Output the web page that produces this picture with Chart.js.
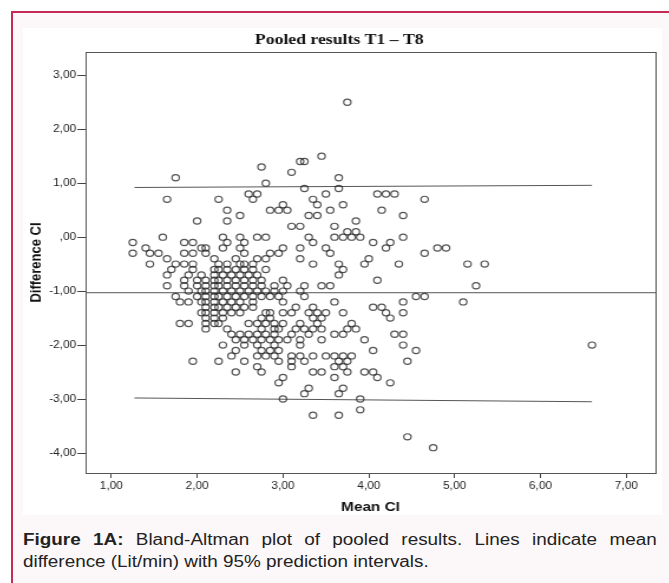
<!DOCTYPE html>
<html>
<head>
<meta charset="utf-8">
<script src="https://cdn.jsdelivr.net/npm/chart.js@4.4.0/dist/chart.umd.min.js"></script>
<style>
  body { margin: 0; background: #fff; width: 669px; height: 583px; overflow: hidden; position: relative;
         font-family: "Liberation Sans", Arial, sans-serif; }
  #frame { position: absolute; left: 11px; top: 11px; width: 700px; height: 600px;
           border-left: 2px solid #c72a55; border-top: 2px solid #c72a55; background: #fcf8fa; }
  #panel { position: absolute; left: 23px; top: 28px; width: 639px; height: 487px; background: #fff; }
  #plot { position: absolute; left: 23px; top: 28px; transform: scaleX(1.18); transform-origin: 0 0; }
  #caption { position: absolute; left: 23px; top: 529px; width: 537px; transform: scaleX(1.18); transform-origin: 0 0;
             font-size: 16px; line-height: 22px; color: #222; }
  #caption .l1 { text-align: justify; text-align-last: justify; white-space: nowrap; }
</style>
</head>
<body>
<div id="frame"></div>
<div id="panel"></div>
<div id="plot"><canvas id="chart" width="542" height="487"></canvas></div>
<div id="caption">
  <div class="l1"><b>Figure 1A:</b> Bland-Altman plot of pooled results. Lines indicate mean</div>
  <div>difference (Lit/min) with 95% prediction intervals.</div>
</div>
<script>
// mean of the two CI measurements (x) and their difference (y), one row of the plot per line
const meanCI = [
  3.75,
  3.45,
  3.2, 3.25,
  2.75,
  3.1,
  1.75, 3.65,
  2.8,
  3.25, 3.65,
  2.6, 2.7, 3.5, 4.1, 4.2, 4.3,
  1.65, 2.25, 2.65, 3.35, 4.65,
  3.0, 3.4, 3.7,
  2.35, 2.85, 2.95, 3.05, 3.55, 4.15,
  2.5, 3.3, 3.4, 4.4,
  2.0, 2.35, 3.85,
  3.1, 3.2, 3.6,
  3.75, 3.85,
  1.6, 2.3, 2.5, 2.7, 2.8, 3.3, 3.6, 3.7, 3.8, 3.9, 4.4,
  1.25, 1.85, 1.95, 2.35, 2.55, 3.35, 4.05, 4.25,
  1.4, 2.05, 2.1, 2.3, 2.5, 3.0, 3.2, 3.5, 4.2, 4.8, 4.9,
  1.25, 1.45, 1.55, 1.85, 1.95, 2.1, 2.55, 2.85, 2.95, 3.55, 4.65,
  1.65, 2.2, 2.45, 2.7, 2.8, 3.2, 4.0,
  1.45, 1.75, 1.85, 1.95, 2.25, 2.35, 2.5, 2.55, 2.65, 3.35, 3.65, 3.95, 4.35, 5.15, 5.35,
  1.7, 1.95, 2.2, 2.25, 2.35, 2.45, 2.55, 2.65, 2.8, 3.7,
  1.65, 1.9, 2.05, 2.2, 2.3, 2.4, 2.5, 2.6, 2.7, 3.65,
  1.85, 2.0, 2.1, 2.2, 2.25, 2.35, 2.45, 2.55, 2.65, 2.75, 3.0, 4.1,
  1.65, 1.85, 2.0, 2.1, 2.2, 2.25, 2.35, 2.45, 2.55, 2.65, 2.75, 2.9, 3.05, 3.25, 3.45, 3.55, 5.25,
  1.9, 2.05, 2.1, 2.2, 2.3, 2.4, 2.5, 2.6, 2.7, 2.8, 2.9, 3.0, 3.2,
  1.75, 2.0, 2.1, 2.2, 2.25, 2.35, 2.45, 2.55, 2.65, 2.75, 2.85, 2.95, 3.25, 4.55, 4.65,
  1.8, 1.9, 2.05, 2.1, 2.2, 2.3, 2.4, 2.5, 2.65, 3.0, 3.6, 4.4, 5.1,
  2.1, 2.2, 2.25, 2.35, 2.45, 2.55, 2.65, 3.15, 3.35, 4.05, 4.15,
  2.05, 2.1, 2.2, 2.3, 2.4, 2.5, 2.8, 2.85, 3.0, 3.1, 3.3, 3.4, 3.5, 3.7, 4.2, 4.4,
  2.1, 2.2, 2.3, 2.75, 2.85, 3.35, 3.45, 4.25,
  1.8, 1.9, 2.1, 2.2, 2.25, 2.6, 2.7, 2.8, 2.9, 3.0, 3.2, 3.4, 3.8,
  2.1, 2.35, 2.75, 2.9, 2.95, 3.15, 3.25, 3.35, 3.45, 3.75, 3.85,
  2.4, 2.5, 2.6, 2.7, 2.8, 2.9, 3.1, 3.3, 3.6, 3.7, 4.3, 4.4,
  2.45, 2.55, 2.65, 2.75, 2.85, 2.95, 3.05, 3.2, 3.45, 3.95,
  2.3, 2.55, 2.7, 2.9, 3.2, 4.4, 6.6,
  2.45, 2.75, 2.85, 2.95, 4.05, 4.55,
  2.4, 2.7, 2.8, 2.9, 3.1, 3.2, 3.35, 3.5, 3.6, 3.7, 3.8,
  1.95, 2.25, 2.55, 2.95, 3.1, 3.25, 3.65, 3.75, 4.45,
  2.7, 3.1, 3.6, 3.7,
  2.45, 2.75, 3.35, 3.45, 3.75, 3.95, 4.05,
  3.0, 3.6, 4.1,
  2.95, 4.25,
  3.3, 3.7,
  3.25, 3.65,
  3.0, 3.9,
  3.9,
  3.35, 3.65,
  4.45,
  4.75
];
const diffCI = [
  2.5,
  1.5,
  1.4, 1.4,
  1.3,
  1.2,
  1.1, 1.1,
  1.0,
  0.9, 0.9,
  0.8, 0.8, 0.8, 0.8, 0.8, 0.8,
  0.7, 0.7, 0.7, 0.7, 0.7,
  0.6, 0.6, 0.6,
  0.5, 0.5, 0.5, 0.5, 0.5, 0.5,
  0.4, 0.4, 0.4, 0.4,
  0.3, 0.3, 0.3,
  0.2, 0.2, 0.2,
  0.1, 0.1,
  0, 0, 0, 0, 0, 0, 0, 0, 0, 0, 0,
  -0.1, -0.1, -0.1, -0.1, -0.1, -0.1, -0.1, -0.1,
  -0.2, -0.2, -0.2, -0.2, -0.2, -0.2, -0.2, -0.2, -0.2, -0.2, -0.2,
  -0.3, -0.3, -0.3, -0.3, -0.3, -0.3, -0.3, -0.3, -0.3, -0.3, -0.3,
  -0.4, -0.4, -0.4, -0.4, -0.4, -0.4, -0.4,
  -0.5, -0.5, -0.5, -0.5, -0.5, -0.5, -0.5, -0.5, -0.5, -0.5, -0.5, -0.5, -0.5, -0.5, -0.5,
  -0.6, -0.6, -0.6, -0.6, -0.6, -0.6, -0.6, -0.6, -0.6, -0.6,
  -0.7, -0.7, -0.7, -0.7, -0.7, -0.7, -0.7, -0.7, -0.7, -0.7,
  -0.8, -0.8, -0.8, -0.8, -0.8, -0.8, -0.8, -0.8, -0.8, -0.8, -0.8, -0.8,
  -0.9, -0.9, -0.9, -0.9, -0.9, -0.9, -0.9, -0.9, -0.9, -0.9, -0.9, -0.9, -0.9, -0.9, -0.9, -0.9, -0.9,
  -1.0, -1.0, -1.0, -1.0, -1.0, -1.0, -1.0, -1.0, -1.0, -1.0, -1.0, -1.0, -1.0,
  -1.1, -1.1, -1.1, -1.1, -1.1, -1.1, -1.1, -1.1, -1.1, -1.1, -1.1, -1.1, -1.1, -1.1, -1.1,
  -1.2, -1.2, -1.2, -1.2, -1.2, -1.2, -1.2, -1.2, -1.2, -1.2, -1.2, -1.2, -1.2,
  -1.3, -1.3, -1.3, -1.3, -1.3, -1.3, -1.3, -1.3, -1.3, -1.3, -1.3,
  -1.4, -1.4, -1.4, -1.4, -1.4, -1.4, -1.4, -1.4, -1.4, -1.4, -1.4, -1.4, -1.4, -1.4, -1.4, -1.4,
  -1.5, -1.5, -1.5, -1.5, -1.5, -1.5, -1.5, -1.5,
  -1.6, -1.6, -1.6, -1.6, -1.6, -1.6, -1.6, -1.6, -1.6, -1.6, -1.6, -1.6, -1.6,
  -1.7, -1.7, -1.7, -1.7, -1.7, -1.7, -1.7, -1.7, -1.7, -1.7, -1.7,
  -1.8, -1.8, -1.8, -1.8, -1.8, -1.8, -1.8, -1.8, -1.8, -1.8, -1.8, -1.8,
  -1.9, -1.9, -1.9, -1.9, -1.9, -1.9, -1.9, -1.9, -1.9, -1.9,
  -2.0, -2.0, -2.0, -2.0, -2.0, -2.0, -2.0,
  -2.1, -2.1, -2.1, -2.1, -2.1, -2.1,
  -2.2, -2.2, -2.2, -2.2, -2.2, -2.2, -2.2, -2.2, -2.2, -2.2, -2.2,
  -2.3, -2.3, -2.3, -2.3, -2.3, -2.3, -2.3, -2.3, -2.3,
  -2.4, -2.4, -2.4, -2.4,
  -2.5, -2.5, -2.5, -2.5, -2.5, -2.5, -2.5,
  -2.6, -2.6, -2.6,
  -2.7, -2.7,
  -2.8, -2.8,
  -2.9, -2.9,
  -3.0, -3.0,
  -3.2,
  -3.3, -3.3,
  -3.7,
  -3.9
];

// fitted lines: mean difference and 95% prediction limits
const limitX = [1.27, 6.6];
const upperLimit = [0.92, 0.96];
const lowerLimit = [-2.98, -3.05];
const meanX = [0.7, 7.34];
const meanDiff = [-1.03, -1.03];

const xTicks = [1, 2, 3, 4, 5, 6, 7];
const yTicks = [-4, -3, -2, -1, 0, 1, 2, 3];

function fmt(v) {
    return v === 0 ? ',00' : v.toFixed(2).replace('.', ',');
}

const FONT = '"Liberation Sans", Arial, sans-serif';

const plotFrame = {
    id: 'plotFrame',
    afterDraw(chart) {
        const a = chart.chartArea, ctx = chart.ctx;
        ctx.save();
        ctx.strokeStyle = '#555';
        ctx.lineWidth = 1;
        ctx.strokeRect(Math.round(a.left) + 0.5, Math.round(a.top) + 0.5,
                       Math.round(a.right - a.left), Math.round(a.bottom - a.top));
        ctx.restore();
    }
};

function lineSet(xs, ys) {
    return {
        type: 'line',
        data: xs.map((x, i) => ({ x: x, y: ys[i] })),
        borderColor: '#555',
        borderWidth: 1,
        pointRadius: 0,
        fill: false
    };
}

new Chart(document.getElementById('chart'), {
    type: 'scatter',
    data: {
        datasets: [
            {
                data: meanCI.map((x, i) => ({ x: x, y: diffCI[i] })),
                pointRadius: 3.1,
                pointBorderWidth: 1.2,
                pointBackgroundColor: 'rgba(0,0,0,0)',
                pointBorderColor: 'rgba(40,40,40,0.8)'
            },
            lineSet(limitX, upperLimit),
            lineSet(meanX, meanDiff),
            lineSet(limitX, lowerLimit)
        ]
    },
    options: {
        responsive: false,
        animation: false,
        layout: { padding: { left: 0, right: 6, top: 0, bottom: 0 } },
        plugins: {
            legend: { display: false },
            tooltip: { enabled: false },
            title: {
                display: true,
                text: 'Pooled results T1 \u2013 T8',
                color: '#111',
                font: { family: '"Liberation Serif", "Times New Roman", serif', size: 15, weight: 'bold' },
                padding: { top: 3, bottom: 3 }
            }
        },
        scales: {
            x: {
                type: 'linear',
                min: 0.7,
                max: 7.34,
                afterBuildTicks: s => { s.ticks = xTicks.map(v => ({ value: v })); },
                afterFit: s => { s.height = 42; },
                border: { display: false },
                grid: { drawOnChartArea: false, drawTicks: true, tickLength: 5, color: '#444' },
                ticks: { autoSkip: false, maxRotation: 0, padding: 2, color: '#222',
                         font: { family: FONT, size: 10 }, callback: v => fmt(v) },
                title: { display: true, text: 'Mean CI', color: '#111',
                         font: { family: FONT, size: 13, weight: 'bold' }, padding: { top: 0, bottom: 0 } }
            },
            y: {
                type: 'linear',
                min: -4.37,
                max: 3.43,
                afterBuildTicks: s => { s.ticks = yTicks.map(v => ({ value: v })); },
                afterFit: s => { s.width = 53; },
                border: { display: false },
                grid: { drawOnChartArea: false, drawTicks: true, tickLength: 7, color: '#444' },
                ticks: { autoSkip: false, padding: 1, color: '#222',
                         font: { family: FONT, size: 10 }, callback: v => fmt(v) },
                title: { display: true, text: 'Difference CI', color: '#111',
                         font: { family: FONT, size: 13, weight: 'bold' }, padding: { top: 4, bottom: 0 } }
            }
        }
    },
    plugins: [plotFrame]
});
</script>
</body>
</html>
